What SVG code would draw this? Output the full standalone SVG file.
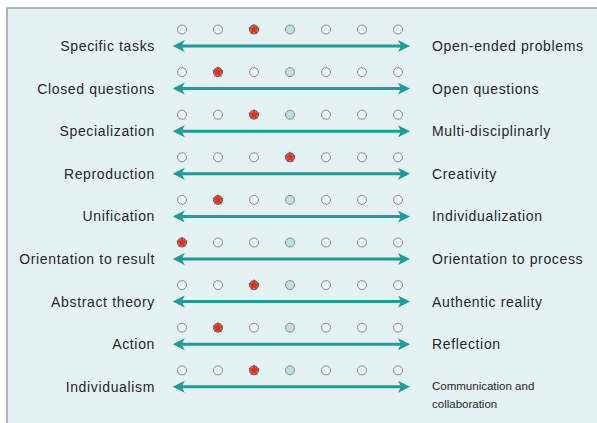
<svg xmlns="http://www.w3.org/2000/svg" xmlns:xlink="http://www.w3.org/1999/xlink" width="597" height="423" viewBox="0 0 597 423">
<style>
.lbl{font-family:"Liberation Sans",Arial,sans-serif;font-size:14px;letter-spacing:0.65px;fill:#262626}
.l{text-anchor:end}
.sm{font-family:"Liberation Sans",Arial,sans-serif;font-size:11.5px;fill:#1e1e1e}
.c{fill:#edf4f5;stroke:#8c8c8c;stroke-width:1}
.cb{fill:#bcdfe3;stroke:#8c8c8c;stroke-width:1}
.cs{fill:#a88080;stroke:#5e5e5e;stroke-width:1}
.star{fill:#e2301c}
.arr{stroke:#1f9b98;stroke-width:3;fill:none;marker-start:url(#ah);marker-end:url(#ah)}
</style>
<defs>
<marker id="ah" markerUnits="userSpaceOnUse" markerWidth="13" markerHeight="13" refX="3" refY="6" orient="auto-start-reverse">
<path d="M0,0 L12,6 L0,12 L3,6 Z" fill="#1f9b98"/>
</marker>
<path id="st" d="M0,-6 L1.47,-2.03 L5.71,-1.85 L2.39,0.78 L3.53,4.85 L0,2.5 L-3.53,4.85 L-2.39,0.78 L-5.71,-1.85 L-1.47,-2.03 Z"/>
</defs>
<rect x="0" y="0" width="597" height="423" fill="#ffffff"/>
<rect x="7" y="8" width="592" height="418" fill="#e5f2f4" stroke="#a3a3a3" stroke-width="1.6"/>

<g id="connectors">
<line class="arr" x1="181.7" y1="46" x2="401" y2="46"/>
<line class="arr" x1="181.7" y1="88.6" x2="401" y2="88.6"/>
<line class="arr" x1="181.7" y1="131.2" x2="401" y2="131.2"/>
<line class="arr" x1="181.7" y1="173.8" x2="401" y2="173.8"/>
<line class="arr" x1="181.7" y1="216.4" x2="401" y2="216.4"/>
<line class="arr" x1="181.7" y1="259" x2="401" y2="259"/>
<line class="arr" x1="181.7" y1="301.6" x2="401" y2="301.6"/>
<line class="arr" x1="181.7" y1="344.2" x2="401" y2="344.2"/>
<line class="arr" x1="181.7" y1="386.8" x2="401" y2="386.8"/>
</g>

<g id="row1">
<text class="lbl l" x="155" y="51">Specific tasks</text>
<g id="scale1"><circle class="c" cx="182" cy="29.5" r="4.5"/><circle class="c" cx="218" cy="29.5" r="4.5"/><circle class="cs" cx="254" cy="29.5" r="4.5"/><use href="#st" xlink:href="#st" class="star" x="254" y="29.5"/><circle class="cb" cx="290" cy="29.5" r="4.5"/><circle class="c" cx="326" cy="29.5" r="4.5"/><circle class="c" cx="362" cy="29.5" r="4.5"/><circle class="c" cx="398" cy="29.5" r="4.5"/></g>
<text class="lbl" x="432" y="51">Open-ended problems</text>
</g>

<g id="row2">
<text class="lbl l" x="155" y="93.6">Closed questions</text>
<g id="scale2"><circle class="c" cx="182" cy="72.1" r="4.5"/><circle class="cs" cx="218" cy="72.1" r="4.5"/><use href="#st" xlink:href="#st" class="star" x="218" y="72.1"/><circle class="c" cx="254" cy="72.1" r="4.5"/><circle class="cb" cx="290" cy="72.1" r="4.5"/><circle class="c" cx="326" cy="72.1" r="4.5"/><circle class="c" cx="362" cy="72.1" r="4.5"/><circle class="c" cx="398" cy="72.1" r="4.5"/></g>
<text class="lbl" x="432" y="93.6">Open questions</text>
</g>

<g id="row3">
<text class="lbl l" x="155" y="136.2">Specialization</text>
<g id="scale3"><circle class="c" cx="182" cy="114.7" r="4.5"/><circle class="c" cx="218" cy="114.7" r="4.5"/><circle class="cs" cx="254" cy="114.7" r="4.5"/><use href="#st" xlink:href="#st" class="star" x="254" y="114.7"/><circle class="cb" cx="290" cy="114.7" r="4.5"/><circle class="c" cx="326" cy="114.7" r="4.5"/><circle class="c" cx="362" cy="114.7" r="4.5"/><circle class="c" cx="398" cy="114.7" r="4.5"/></g>
<text class="lbl" x="432" y="136.2">Multi-disciplinarly</text>
</g>

<g id="row4">
<text class="lbl l" x="155" y="178.8">Reproduction</text>
<g id="scale4"><circle class="c" cx="182" cy="157.3" r="4.5"/><circle class="c" cx="218" cy="157.3" r="4.5"/><circle class="c" cx="254" cy="157.3" r="4.5"/><circle class="cs" cx="290" cy="157.3" r="4.5"/><use href="#st" xlink:href="#st" class="star" x="290" y="157.3"/><circle class="c" cx="326" cy="157.3" r="4.5"/><circle class="c" cx="362" cy="157.3" r="4.5"/><circle class="c" cx="398" cy="157.3" r="4.5"/></g>
<text class="lbl" x="432" y="178.8">Creativity</text>
</g>

<g id="row5">
<text class="lbl l" x="155" y="221.4">Unification</text>
<g id="scale5"><circle class="c" cx="182" cy="199.9" r="4.5"/><circle class="cs" cx="218" cy="199.9" r="4.5"/><use href="#st" xlink:href="#st" class="star" x="218" y="199.9"/><circle class="c" cx="254" cy="199.9" r="4.5"/><circle class="cb" cx="290" cy="199.9" r="4.5"/><circle class="c" cx="326" cy="199.9" r="4.5"/><circle class="c" cx="362" cy="199.9" r="4.5"/><circle class="c" cx="398" cy="199.9" r="4.5"/></g>
<text class="lbl" x="432" y="221.4">Individualization</text>
</g>

<g id="row6">
<text class="lbl l" x="155" y="264">Orientation to result</text>
<g id="scale6"><circle class="cs" cx="182" cy="242.5" r="4.5"/><use href="#st" xlink:href="#st" class="star" x="182" y="242.5"/><circle class="c" cx="218" cy="242.5" r="4.5"/><circle class="c" cx="254" cy="242.5" r="4.5"/><circle class="cb" cx="290" cy="242.5" r="4.5"/><circle class="c" cx="326" cy="242.5" r="4.5"/><circle class="c" cx="362" cy="242.5" r="4.5"/><circle class="c" cx="398" cy="242.5" r="4.5"/></g>
<text class="lbl" x="432" y="264">Orientation to process</text>
</g>

<g id="row7">
<text class="lbl l" x="155" y="306.6">Abstract theory</text>
<g id="scale7"><circle class="c" cx="182" cy="285.1" r="4.5"/><circle class="c" cx="218" cy="285.1" r="4.5"/><circle class="cs" cx="254" cy="285.1" r="4.5"/><use href="#st" xlink:href="#st" class="star" x="254" y="285.1"/><circle class="cb" cx="290" cy="285.1" r="4.5"/><circle class="c" cx="326" cy="285.1" r="4.5"/><circle class="c" cx="362" cy="285.1" r="4.5"/><circle class="c" cx="398" cy="285.1" r="4.5"/></g>
<text class="lbl" x="432" y="306.6">Authentic reality</text>
</g>

<g id="row8">
<text class="lbl l" x="155" y="349.2">Action</text>
<g id="scale8"><circle class="c" cx="182" cy="327.7" r="4.5"/><circle class="cs" cx="218" cy="327.7" r="4.5"/><use href="#st" xlink:href="#st" class="star" x="218" y="327.7"/><circle class="c" cx="254" cy="327.7" r="4.5"/><circle class="cb" cx="290" cy="327.7" r="4.5"/><circle class="c" cx="326" cy="327.7" r="4.5"/><circle class="c" cx="362" cy="327.7" r="4.5"/><circle class="c" cx="398" cy="327.7" r="4.5"/></g>
<text class="lbl" x="432" y="349.2">Reflection</text>
</g>

<g id="row9">
<text class="lbl l" x="155" y="391.8">Individualism</text>
<g id="scale9"><circle class="c" cx="182" cy="370.3" r="4.5"/><circle class="c" cx="218" cy="370.3" r="4.5"/><circle class="cs" cx="254" cy="370.3" r="4.5"/><use href="#st" xlink:href="#st" class="star" x="254" y="370.3"/><circle class="cb" cx="290" cy="370.3" r="4.5"/><circle class="c" cx="326" cy="370.3" r="4.5"/><circle class="c" cx="362" cy="370.3" r="4.5"/><circle class="c" cx="398" cy="370.3" r="4.5"/></g>
<text class="sm" x="432" y="390">Communication and</text>
<text class="sm" x="432" y="407.5">collaboration</text>
</g>
</svg>
